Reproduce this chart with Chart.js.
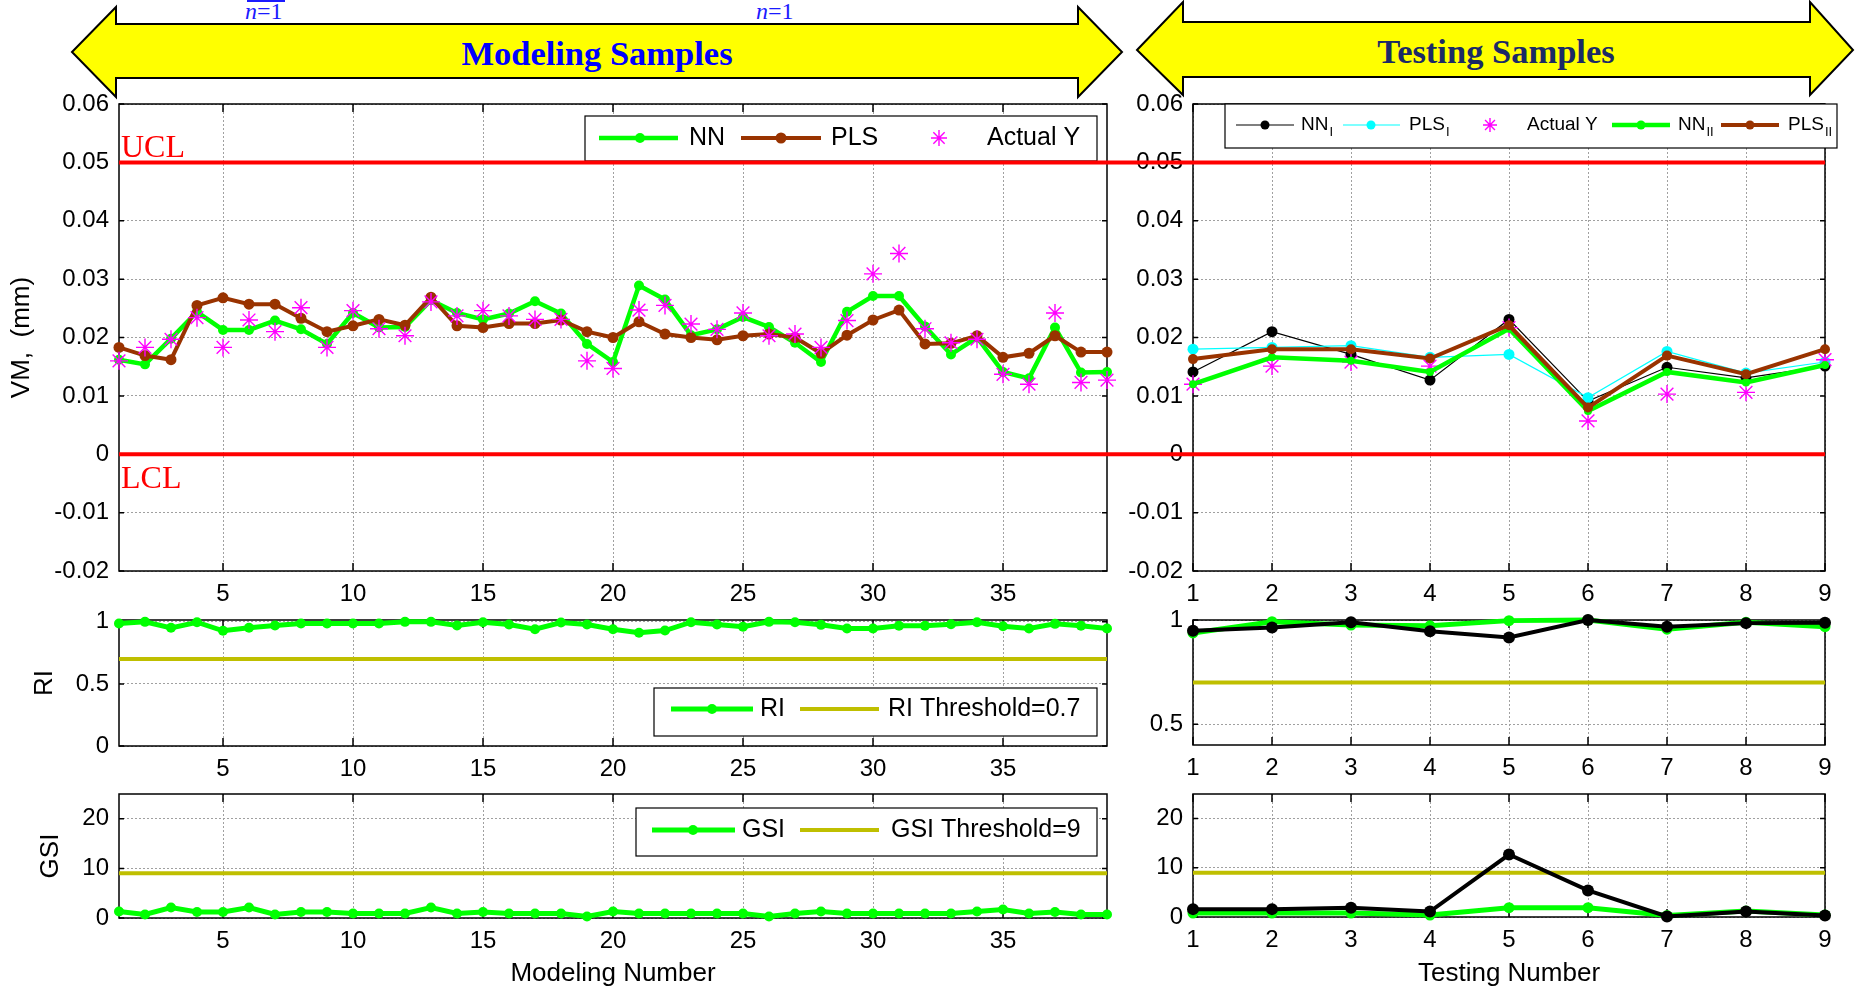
<!DOCTYPE html>
<html>
<head>
<meta charset="utf-8">
<title>VM / RI / GSI</title>
<script src="https://cdn.jsdelivr.net/npm/chart.js@4.4.1/dist/chart.umd.min.js"></script>
<style>
  html, body { margin: 0; padding: 0; background: #fff; }
  body { width: 1855px; height: 989px; position: relative; overflow: hidden; }
  canvas { position: absolute; }
  .banner { position: absolute; left: 0; top: 0; }
</style>
</head>
<body>
<svg class="banner" width="1855" height="100">
  <rect x="247" y="0" width="38" height="2" fill="#1a1aff"/>
  <text x="245" y="19" font-family="Liberation Serif, serif" font-size="24" fill="#1a1aff"><tspan font-style="italic">n</tspan>=1</text>
  <text x="756" y="19" font-family="Liberation Serif, serif" font-size="24" fill="#1a1aff"><tspan font-style="italic">n</tspan>=1</text>
  <polygon points="72,52 116,7 116,24 1078,24 1078,7 1122,52 1078,97 1078,78 116,78 116,97" fill="#ffff00" stroke="#000" stroke-width="2"/>
  <polygon points="1137,50 1183,2 1183,22 1810,22 1810,2 1853,50 1810,95 1810,77 1183,77 1183,95" fill="#ffff00" stroke="#000" stroke-width="2"/>
  <text x="597" y="65" text-anchor="middle" font-family="Liberation Serif, serif" font-weight="bold" font-size="34.5" fill="#0000ff">Modeling Samples</text>
  <text x="1496" y="63" text-anchor="middle" font-family="Liberation Serif, serif" font-weight="bold" font-size="34.5" fill="#1b2a66">Testing Samples</text>
</svg>

<canvas id="vmModel" width="1125" height="520" style="left:0;top:90px"></canvas>
<canvas id="riModel" width="1125" height="174" style="left:0;top:608px"></canvas>
<canvas id="gsiModel" width="1125" height="207" style="left:0;top:782px"></canvas>
<canvas id="vmTest" width="730" height="520" style="left:1125px;top:90px"></canvas>
<canvas id="riTest" width="730" height="174" style="left:1125px;top:608px"></canvas>
<canvas id="gsiTest" width="730" height="207" style="left:1125px;top:782px"></canvas>

<script>
// ---- modeling samples ----
const modelingNo = [1,2,3,4,5,6,7,8,9,10,11,12,13,14,15,16,17,18,19,20,21,22,23,24,25,26,27,28,29,30,31,32,33,34,35,36,37,38,39];
const nnVM = [0.0162,0.0154,0.0198,0.0244,0.0213,0.0213,0.0229,0.0214,0.0189,0.0242,0.0217,0.0218,0.0264,0.0242,0.0231,0.0241,0.0262,0.0241,0.0189,0.0158,
              0.0289,0.0265,0.0204,0.0214,0.0235,0.0218,0.0191,0.0158,0.0244,0.0271,0.0271,0.0219,0.0171,0.0200,0.0141,0.0130,0.0217,0.0140,0.0141];
const plsVM = [0.0183,0.0169,0.0162,0.0255,0.0268,0.0257,0.0257,0.0233,0.0210,0.0220,0.0231,0.0221,0.0269,0.0220,0.0217,0.0224,0.0224,0.0230,0.0210,0.0200,
               0.0227,0.0206,0.0200,0.0196,0.0203,0.0206,0.0200,0.0173,0.0204,0.0230,0.0247,0.0189,0.0190,0.0203,0.0166,0.0173,0.0203,0.0175,0.0175];
const actualVM = [0.0160,0.0183,0.0197,0.0234,0.0183,0.0230,0.0210,0.0251,0.0183,0.0246,0.0215,0.0203,0.0261,0.0237,0.0246,0.0237,0.0231,0.0231,0.0160,0.0147,
                  0.0247,0.0255,0.0223,0.0214,0.0242,0.0203,0.0206,0.0183,0.0229,0.0309,0.0344,0.0215,0.0191,0.0197,0.0137,0.0120,0.0242,0.0123,0.0127];
const riModel = [0.987,1.0,0.952,0.997,0.928,0.952,0.971,0.987,0.987,0.987,0.987,1.0,1.0,0.971,0.997,0.979,0.941,0.995,0.979,0.941,
                 0.912,0.930,0.997,0.979,0.960,1.0,0.997,0.976,0.947,0.947,0.968,0.968,0.981,0.997,0.965,0.947,0.984,0.968,0.947];
const gsiModel = [1.3,0.7,2.1,1.2,1.2,2.1,0.7,1.2,1.2,0.9,0.9,0.9,2.1,0.9,1.2,0.9,0.9,0.9,0.3,1.3,
                  0.9,0.9,0.9,0.9,0.9,0.3,0.9,1.3,0.9,0.9,0.9,0.9,0.9,1.3,1.7,0.9,1.2,0.7,0.7];

// ---- testing samples ----
const testingNo = [1,2,3,4,5,6,7,8,9];
const nn1VM = [0.0141,0.0210,0.0171,0.0127,0.0231,0.0091,0.0149,0.0131,0.0151];
const pls1VM = [0.0180,0.0183,0.0186,0.0166,0.0171,0.0097,0.0176,0.0139,0.0158];
const actualTestVM = [0.0120,0.0151,0.0158,0.0151,0.0217,0.0057,0.0103,0.0106,0.0162];
const nn2VM = [0.0120,0.0166,0.0160,0.0141,0.0215,0.0074,0.0141,0.0123,0.0153];
const pls2VM = [0.0163,0.0180,0.0180,0.0164,0.0221,0.0080,0.0169,0.0137,0.0180];
const nn1RI = [0.948,0.964,0.989,0.946,0.916,1.0,0.968,0.985,0.987];
const nn2RI = [0.938,0.992,0.976,0.972,0.997,1.0,0.956,0.989,0.968];
const nn1GSI = [1.6,1.6,1.9,1.1,12.7,5.4,0.1,1.1,0.3];
const nn2GSI = [0.8,0.8,0.8,0.4,1.9,1.9,0.3,1.2,0.4];

// ---- limits and ticks ----
const ucl = 0.05, lcl = 0;
const riThreshold = 0.7, gsiThreshold = 9;
const vmTicks = [-0.02,-0.01,0,0.01,0.02,0.03,0.04,0.05,0.06];
const modelTicks = [5,10,15,20,25,30,35];
const riModelTicks = [0,0.5,1];
const riTestTicks = [0.5,1];
const gsiTicks = [0,10,20];

const FONT = '"Liberation Sans", Arial, Helvetica, sans-serif';
const GREEN = '#00ff00', BROWN = '#993300', MAGENTA = '#ff00ff', CYAN = '#00ffff', OLIVE = '#bfbf00';

const pts = (xs, ys) => xs.map((x, i) => ({ x, y: ys[i] }));
function series(label, xs, ys, style) {
  return Object.assign({ label, data: pts(xs, ys), clip: false, tension: 0, fill: false,
    pointBorderWidth: 0, pointHoverRadius: 0 }, style);
}
function dotted(label, xs, ys, color, width, r) {
  return series(label, xs, ys, { borderColor: color, borderWidth: width, pointRadius: r,
    pointBackgroundColor: color, pointBorderColor: color, pointStyle: 'circle' });
}
function stars(label, xs, ys) {
  return series(label, xs, ys, { showLine: false, borderColor: MAGENTA, pointStyle: 'star',
    pointRadius: 9, pointBorderWidth: 1.4, pointBorderColor: MAGENTA });
}
function threshold(label, xs, value) {
  const ends = [xs[0], xs[xs.length - 1]];
  return series(label, ends, ends.map(() => value), { borderColor: OLIVE, borderWidth: 4, pointRadius: 0 });
}

// box + inward ticks on all four sides
const frame = {
  id: 'frame',
  beforeDatasetsDraw(chart) {
    const { ctx, chartArea: a, scales: { x, y } } = chart;
    ctx.save();
    ctx.strokeStyle = '#000';
    ctx.lineWidth = 1.5;
    ctx.beginPath();
    x.ticks.forEach(t => {
      const px = x.getPixelForValue(t.value);
      ctx.moveTo(px, a.bottom); ctx.lineTo(px, a.bottom - 8);
      ctx.moveTo(px, a.top); ctx.lineTo(px, a.top + 8);
    });
    y.ticks.forEach(t => {
      const py = y.getPixelForValue(t.value);
      ctx.moveTo(a.left, py); ctx.lineTo(a.left + 5, py);
      ctx.moveTo(a.right, py); ctx.lineTo(a.right - 5, py);
    });
    ctx.stroke();
    ctx.strokeRect(a.left, a.top, a.right - a.left, a.bottom - a.top);
    ctx.restore();
  }
};

function drawMarker(ctx, style, x, y, r, color, lw) {
  ctx.fillStyle = color;
  ctx.strokeStyle = color;
  if (style === 'star') {
    const d = r * Math.SQRT1_2;
    ctx.lineWidth = lw;
    ctx.beginPath();
    ctx.moveTo(x, y - r); ctx.lineTo(x, y + r);
    ctx.moveTo(x - r, y); ctx.lineTo(x + r, y);
    ctx.moveTo(x - d, y - d); ctx.lineTo(x + d, y + d);
    ctx.moveTo(x - d, y + d); ctx.lineTo(x + d, y - d);
    ctx.stroke();
  } else {
    ctx.beginPath();
    ctx.arc(x, y, r, 0, Math.PI * 2);
    ctx.fill();
  }
}

// legend box inside the plot, entries styled from their datasets
const boxLegend = {
  id: 'boxLegend',
  afterDatasetsDraw(chart, args, opts) {
    if (!opts.items) return;
    const { ctx } = chart;
    const { left, top, width, height, rowY, fontSize } = opts;
    const cy = top + rowY;
    ctx.save();
    ctx.fillStyle = '#fff';
    ctx.fillRect(left, top, width, height);
    ctx.strokeStyle = '#000';
    ctx.lineWidth = 1.2;
    ctx.strokeRect(left, top, width, height);
    opts.items.forEach(it => {
      const ds = chart.data.datasets[it.ds];
      if (ds.showLine !== false) {
        ctx.strokeStyle = ds.borderColor;
        ctx.lineWidth = ds.borderWidth;
        ctx.beginPath();
        ctx.moveTo(left + it.x1, cy);
        ctx.lineTo(left + it.x2, cy);
        ctx.stroke();
      }
      if (ds.pointRadius > 0) {
        drawMarker(ctx, ds.pointStyle, left + it.mx, cy, it.r || ds.pointRadius,
          ds.pointBorderColor || ds.borderColor, ds.pointBorderWidth);
      }
      ctx.fillStyle = '#000';
      ctx.textBaseline = 'middle';
      ctx.font = fontSize + 'px ' + FONT;
      ctx.fillText(it.text, left + it.tx, cy);
      if (it.sub) {
        const w = ctx.measureText(it.text).width;
        ctx.font = Math.round(fontSize * 0.68) + 'px ' + FONT;
        ctx.fillText(it.sub, left + it.tx + w + 1, cy + 7);
      }
    });
    ctx.restore();
  }
};

// UCL / LCL lines, carried across the gap between the two columns
const controlLimits = {
  id: 'controlLimits',
  afterDraw(chart, args, opts) {
    if (!opts.lines) return;
    const { ctx, chartArea: a, scales: { y } } = chart;
    const x0 = opts.extendLeft ? 0 : a.left;
    const x1 = opts.extendRight ? chart.width : a.right;
    ctx.save();
    ctx.strokeStyle = '#ff0000';
    ctx.lineWidth = 4;
    opts.lines.forEach(l => {
      const py = y.getPixelForValue(l.value);
      ctx.beginPath();
      ctx.moveTo(x0, py);
      ctx.lineTo(x1, py);
      ctx.stroke();
      if (l.label) {
        ctx.fillStyle = '#ff0000';
        ctx.font = '32px "Liberation Serif", "Times New Roman", serif';
        ctx.textBaseline = 'alphabetic';
        ctx.fillText(l.label, a.left + 2, py + l.dy);
      }
    });
    ctx.restore();
  }
};

function buildChart(id, spec) {
  const n = spec.datasets.length;
  spec.datasets.forEach((d, i) => { d.order = n - i; });   // later series on top
  const tickFont = { family: FONT, size: 24 };
  const titleFont = { family: FONT, size: 26 };
  const grid = { color: '#a0a0a0', lineWidth: 1, drawTicks: false };
  const border = { display: false, dash: [2, 2] };
  return new Chart(document.getElementById(id), {
    type: 'line',
    data: { datasets: spec.datasets },
    options: {
      responsive: false,
      animation: false,
      devicePixelRatio: 1,
      events: [],
      layout: { padding: { left: 0, top: spec.padTop, right: spec.padRight, bottom: 0 } },
      plugins: {
        legend: { display: false },
        tooltip: { enabled: false },
        boxLegend: spec.legend || {},
        controlLimits: spec.limits || {}
      },
      scales: {
        x: {
          type: 'linear', min: spec.xMin, max: spec.xMax,
          afterBuildTicks: s => { s.ticks = spec.xTicks.map(v => ({ value: v })); },
          afterFit: s => { s.height = spec.xHeight; s.paddingLeft = 0; s.paddingRight = 0; },
          grid, border,
          ticks: { font: tickFont, color: '#000', padding: 9, maxRotation: 0, autoSkip: false, callback: v => String(v) },
          title: spec.xTitle
            ? { display: true, text: spec.xTitle, font: titleFont, color: '#000', padding: { top: 0, bottom: 0 } }
            : { display: false }
        },
        y: {
          type: 'linear', min: spec.yMin, max: spec.yMax,
          afterBuildTicks: s => { s.ticks = spec.yTicks.map(v => ({ value: v })); },
          afterFit: s => { s.width = spec.yWidth; s.paddingTop = 0; s.paddingBottom = 0; },
          grid, border,
          ticks: { font: tickFont, color: '#000', padding: 10, autoSkip: false, callback: v => String(v) },
          title: spec.yTitle
            ? { display: true, text: spec.yTitle, font: titleFont, color: '#000', padding: { top: spec.yTitlePad, bottom: 0 } }
            : { display: false }
        }
      }
    },
    plugins: [frame, boxLegend, controlLimits]
  });
}

// ---- modeling column ----
buildChart('vmModel', {
  datasets: [
    dotted('NN', modelingNo, nnVM, GREEN, 4.5, 5),
    dotted('PLS', modelingNo, plsVM, BROWN, 4, 5.5),
    stars('Actual Y', modelingNo, actualVM)
  ],
  xMin: 1, xMax: 39, xTicks: modelTicks, yMin: -0.02, yMax: 0.06, yTicks: vmTicks,
  padTop: 14, padRight: 18, yWidth: 119, xHeight: 39,
  yTitle: 'VM,  (mm)', yTitlePad: 6,
  legend: {
    left: 585, top: 26, width: 512, height: 45, rowY: 22, fontSize: 25,
    items: [
      { ds: 0, x1: 14, x2: 93, mx: 55, tx: 104, text: 'NN' },
      { ds: 1, x1: 156, x2: 236, mx: 196, tx: 246, text: 'PLS' },
      { ds: 2, mx: 354, tx: 402, text: 'Actual Y', r: 8 }
    ]
  },
  limits: { extendRight: true, lines: [
    { value: ucl, label: 'UCL', dy: -5 },
    { value: lcl, label: 'LCL', dy: 34 }
  ] }
});

buildChart('riModel', {
  datasets: [
    threshold('RI Threshold=0.7', modelingNo, riThreshold),
    dotted('RI', modelingNo, riModel, GREEN, 5, 5)
  ],
  xMin: 1, xMax: 39, xTicks: modelTicks, yMin: 0, yMax: 1.015, yTicks: riModelTicks,
  padTop: 12, padRight: 18, yWidth: 119, xHeight: 36,
  yTitle: 'RI', yTitlePad: 29,
  legend: {
    left: 654, top: 80, width: 443, height: 48, rowY: 21, fontSize: 25,
    items: [
      { ds: 1, x1: 17, x2: 99, mx: 58, tx: 106, text: 'RI' },
      { ds: 0, x1: 146, x2: 225, tx: 234, text: 'RI Threshold=0.7' }
    ]
  }
});

buildChart('gsiModel', {
  datasets: [
    threshold('GSI Threshold=9', modelingNo, gsiThreshold),
    dotted('GSI', modelingNo, gsiModel, GREEN, 5, 5)
  ],
  xMin: 1, xMax: 39, xTicks: modelTicks, yMin: 0, yMax: 25, yTicks: gsiTicks,
  padTop: 12, padRight: 18, yWidth: 119, xHeight: 71,
  yTitle: 'GSI', yTitlePad: 35, xTitle: 'Modeling Number',
  legend: {
    left: 636, top: 26, width: 461, height: 48, rowY: 22, fontSize: 25,
    items: [
      { ds: 1, x1: 16, x2: 99, mx: 57, tx: 106, text: 'GSI' },
      { ds: 0, x1: 164, x2: 243, tx: 255, text: 'GSI Threshold=9' }
    ]
  }
});

// ---- testing column ----
buildChart('vmTest', {
  datasets: [
    dotted('NN I', testingNo, nn1VM, '#000000', 1.2, 5.5),
    dotted('PLS I', testingNo, pls1VM, CYAN, 1.2, 5.5),
    stars('Actual Y', testingNo, actualTestVM),
    dotted('NN II', testingNo, nn2VM, GREEN, 4.5, 4),
    dotted('PLS II', testingNo, pls2VM, BROWN, 4, 5)
  ],
  xMin: 1, xMax: 9, xTicks: testingNo, yMin: -0.02, yMax: 0.06, yTicks: vmTicks,
  padTop: 14, padRight: 30, yWidth: 68, xHeight: 39,
  legend: {
    left: 100, top: 14, width: 612, height: 44, rowY: 21, fontSize: 19,
    items: [
      { ds: 0, x1: 11, x2: 69, mx: 40, tx: 76, text: 'NN', sub: 'I', r: 4.5 },
      { ds: 1, x1: 118, x2: 175, mx: 146, tx: 184, text: 'PLS', sub: 'I', r: 4.5 },
      { ds: 2, mx: 265, tx: 302, text: 'Actual Y', r: 7 },
      { ds: 3, x1: 387, x2: 445, mx: 416, tx: 453, text: 'NN', sub: 'II', r: 4.5 },
      { ds: 4, x1: 496, x2: 554, mx: 525, tx: 563, text: 'PLS', sub: 'II', r: 4.5 }
    ]
  },
  limits: { extendLeft: true, lines: [{ value: ucl }, { value: lcl }] }
});

buildChart('riTest', {
  datasets: [
    threshold('RI Threshold=0.7', testingNo, riThreshold),
    dotted('RI II', testingNo, nn2RI, GREEN, 5, 5.5),
    dotted('RI I', testingNo, nn1RI, '#000000', 4, 6)
  ],
  xMin: 1, xMax: 9, xTicks: testingNo, yMin: 0.4, yMax: 1.0, yTicks: riTestTicks,
  padTop: 12, padRight: 30, yWidth: 68, xHeight: 37
});

buildChart('gsiTest', {
  datasets: [
    threshold('GSI Threshold=9', testingNo, gsiThreshold),
    dotted('GSI II', testingNo, nn2GSI, GREEN, 5, 5.5),
    dotted('GSI I', testingNo, nn1GSI, '#000000', 4, 6)
  ],
  xMin: 1, xMax: 9, xTicks: testingNo, yMin: 0, yMax: 25, yTicks: gsiTicks,
  padTop: 12, padRight: 30, yWidth: 68, xHeight: 72,
  xTitle: 'Testing Number'
});
</script>
</body>
</html>
